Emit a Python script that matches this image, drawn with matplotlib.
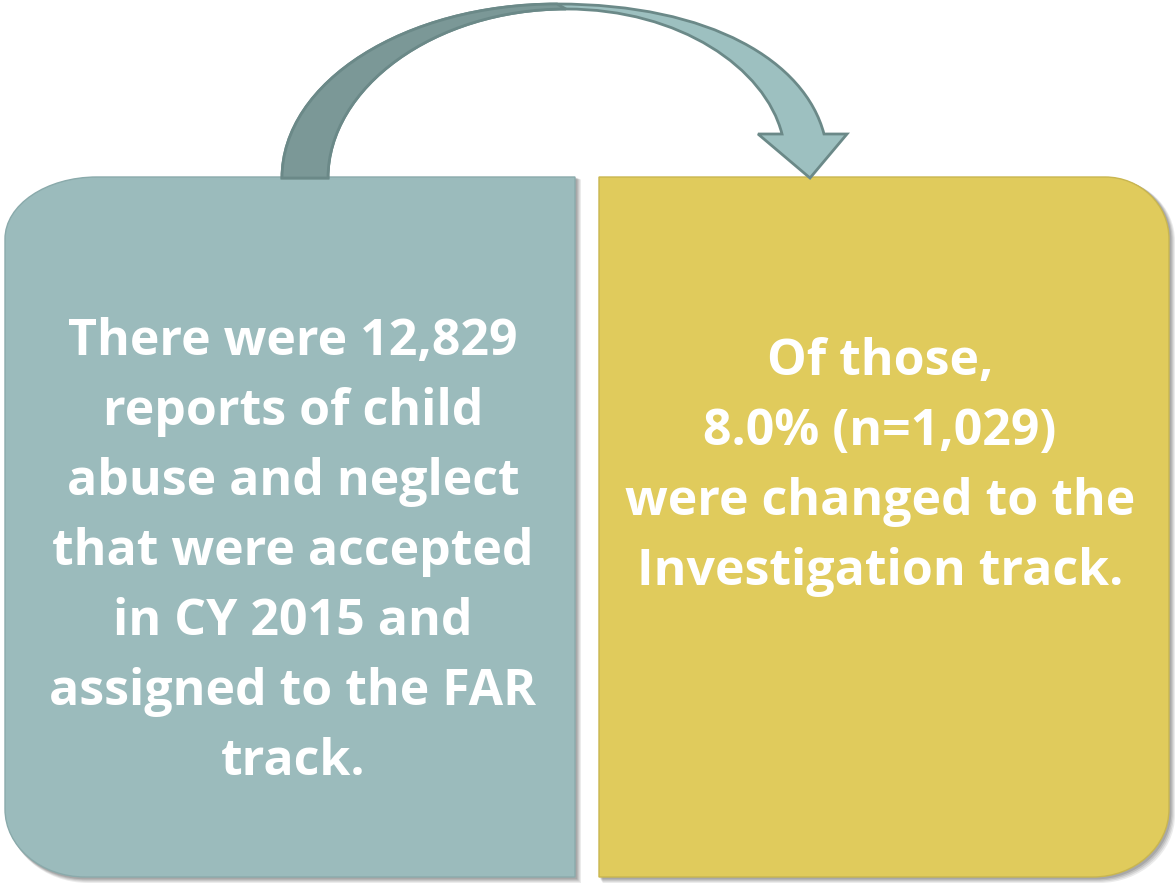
import matplotlib
matplotlib.use("Agg")
import matplotlib.pyplot as plt
from matplotlib.path import Path
from matplotlib.patches import PathPatch

# ---- content ----
total_reports = 12829
changed_n = 1029
changed_pct = 8.0
left_lines = ["There were {:,}".format(total_reports), "reports of child", "abuse and neglect",
              "that were accepted", "in CY 2015 and", "assigned to the FAR", "track."]
right_lines = ["Of those,", "{:.1f}% (n={:,})".format(changed_pct, changed_n),
               "were changed to the", "Investigation track."]

W, H = 1175, 883
fig = plt.figure(figsize=(W / 100, H / 100), dpi=100)
ax = fig.add_axes([0, 0, 1, 1])
ax.set_xlim(0, W)
ax.set_ylim(H, 0)
ax.axis("off")

K = 0.5523


def rounded_box(x0, y0, x1, y1, tl=(0, 0), tr=(0, 0), br=(0, 0), bl=(0, 0)):
    v, c = [], []
    v.append((x0 + tl[0], y0)); c.append(Path.MOVETO)
    v.append((x1 - tr[0], y0)); c.append(Path.LINETO)
    if tr[0]:
        v += [(x1 - tr[0] + K * tr[0], y0), (x1, y0 + tr[1] - K * tr[1]), (x1, y0 + tr[1])]
        c += [Path.CURVE4] * 3
    v.append((x1, y1 - br[1])); c.append(Path.LINETO)
    if br[0]:
        v += [(x1, y1 - br[1] + K * br[1]), (x1 - br[0] + K * br[0], y1), (x1 - br[0], y1)]
        c += [Path.CURVE4] * 3
    v.append((x0 + bl[0], y1)); c.append(Path.LINETO)
    if bl[0]:
        v += [(x0 + bl[0] - K * bl[0], y1), (x0, y1 - bl[1] + K * bl[1]), (x0, y1 - bl[1])]
        c += [Path.CURVE4] * 3
    v.append((x0, y0 + tl[1])); c.append(Path.LINETO)
    if tl[0]:
        v += [(x0, y0 + tl[1] - K * tl[1]), (x0 + tl[0] - K * tl[0], y0), (x0 + tl[0], y0)]
        c += [Path.CURVE4] * 3
    v.append((0, 0)); c.append(Path.CLOSEPOLY)
    return Path(v, c)


def box_with_shadow(x0, y0, x1, y1, color, edge, **corners):
    for i, a in enumerate([0.10, 0.12, 0.15, 0.18]):
        off = 6 - i * 1.2
        p = rounded_box(x0 + off * 0.6, y0 + off * 0.4, x1 + off, y1 + off, **corners)
        ax.add_patch(PathPatch(p, facecolor="#404040", edgecolor="none", alpha=a, zorder=1))
    p = rounded_box(x0, y0, x1, y1, **corners)
    ax.add_patch(PathPatch(p, facecolor=color, edgecolor=edge, lw=1.0, zorder=2))


LEFT_C = "#9BBBBC"
RIGHT_C = "#E0CB5C"
box_with_shadow(5, 177, 575, 877, LEFT_C, "#8AAAAB", tl=(92, 62), bl=(80, 68))
box_with_shadow(599, 177, 1169, 877, RIGHT_C, "#C9B650", tr=(64, 62), br=(76, 68))

# ---- curved arrow ----
ARROW_LIGHT = "#9DC0C0"
ARROW_DARK = "#7B9897"
ARROW_EDGE = "#6B8988"
verts = [
    (282, 178),
    (282, 82), (405, 4), (557, 4),
    (712, 4), (805, 62), (824, 134),
    (847, 134), (810, 178), (758, 134), (782, 134),
    (765, 68), (680, 9), (566, 9),
    (434, 9), (328, 88), (328, 178),
    (282, 178),
]
codes = [Path.MOVETO,
         Path.CURVE4, Path.CURVE4, Path.CURVE4,
         Path.CURVE4, Path.CURVE4, Path.CURVE4,
         Path.LINETO, Path.LINETO, Path.LINETO, Path.LINETO,
         Path.CURVE4, Path.CURVE4, Path.CURVE4,
         Path.CURVE4, Path.CURVE4, Path.CURVE4,
         Path.CLOSEPOLY]
ax.add_patch(PathPatch(Path(verts, codes), facecolor=ARROW_LIGHT, edgecolor=ARROW_EDGE,
                       lw=2.0, zorder=3, joinstyle="miter"))

dverts = [(282, 178), (282, 82), (405, 4), (557, 4),
          (566, 9),
          (434, 9), (328, 88), (328, 178), (282, 178)]
dcodes = [Path.MOVETO, Path.CURVE4, Path.CURVE4, Path.CURVE4,
          Path.LINETO,
          Path.CURVE4, Path.CURVE4, Path.CURVE4, Path.CLOSEPOLY]
ax.add_patch(PathPatch(Path(dverts, dcodes), facecolor=ARROW_DARK, edgecolor=ARROW_EDGE,
                       lw=2.0, zorder=4))

# ---- text ----
FONT = ["Open Sans", "DejaVu Sans"]
FS = 36
for i, line in enumerate(left_lines):
    ax.text(293, 355 + 70 * i, line, ha="center", va="baseline", color="white",
            fontsize=FS, fontweight="bold", family=FONT, zorder=5)
for i, line in enumerate(right_lines):
    ax.text(880, 375 + 70 * i, line, ha="center", va="baseline", color="white",
            fontsize=FS, fontweight="bold", family=FONT, zorder=5)

fig.savefig("out.png", dpi=100, facecolor="white")
